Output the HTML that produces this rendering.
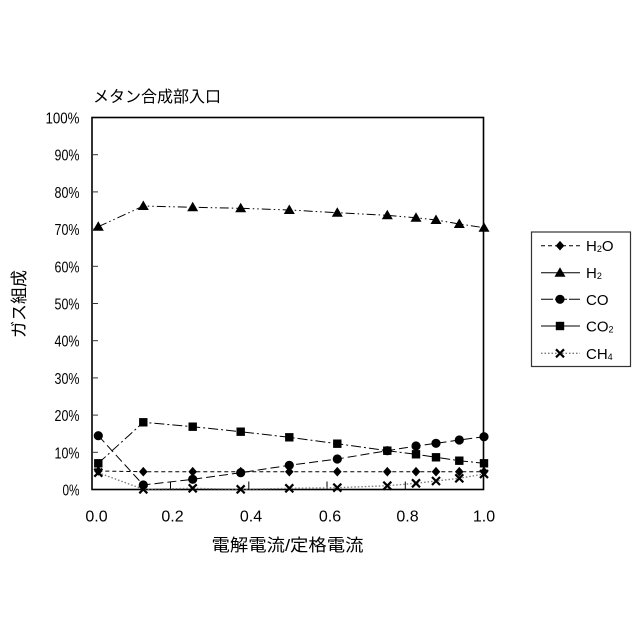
<!DOCTYPE html>
<html><head><meta charset="utf-8"><style>
html,body{margin:0;padding:0;background:#fff;}
svg{display:block;}
text{font-family:"Liberation Sans","Noto Sans CJK JP",sans-serif;fill:#000;}
.j{font-family:"Liberation Sans","Noto Sans CJK JP",sans-serif;}
</style></head><body>
<svg width="640" height="640" viewBox="0 0 640 640" xmlns="http://www.w3.org/2000/svg">
<rect width="640" height="640" fill="#fff"/>
<defs>
<symbol id="tri" overflow="visible"><polygon points="0,-5.5 5.5,4 -5.5,4" fill="#000"/></symbol>
<symbol id="sq" overflow="visible"><rect x="-4.2" y="-4.2" width="8.4" height="8.4" fill="#000"/></symbol>
<symbol id="ci" overflow="visible"><circle r="4.6" fill="#000"/></symbol>
<symbol id="di" overflow="visible"><polygon points="0,-4.8 4.3,0 0,4.8 -4.3,0" fill="#000"/></symbol>
<symbol id="xx" overflow="visible"><path d="M-4,-4 L4,4 M4,-4 L-4,4" stroke="#000" stroke-width="2.2" fill="none"/></symbol>
</defs>

<!-- title -->
<text x="93" y="102" font-size="16" class="j">メタン合成部入口</text>

<!-- plot frame -->
<rect x="92" y="117.5" width="391.5" height="372" fill="none" stroke="#000" stroke-width="1.6"/>

<!-- y ticks -->
<g stroke="#333" stroke-width="1">
<line x1="92" x2="98" y1="154.7" y2="154.7"/>
<line x1="92" x2="98" y1="191.9" y2="191.9"/>
<line x1="92" x2="98" y1="229.1" y2="229.1"/>
<line x1="92" x2="98" y1="266.3" y2="266.3"/>
<line x1="92" x2="98" y1="303.5" y2="303.5"/>
<line x1="92" x2="98" y1="340.7" y2="340.7"/>
<line x1="92" x2="98" y1="377.9" y2="377.9"/>
<line x1="92" x2="98" y1="415.1" y2="415.1"/>
<line x1="92" x2="98" y1="452.3" y2="452.3"/>
</g>
<!-- x ticks -->
<g stroke="#000" stroke-width="1">
<line x1="170.5" x2="170.5" y1="489.5" y2="481.5"/>
<line x1="248.8" x2="248.8" y1="489.5" y2="481.5"/>
<line x1="327" x2="327" y1="489.5" y2="481.5"/>
<line x1="405.3" x2="405.3" y1="489.5" y2="481.5"/>
</g>

<!-- y labels -->
<g font-size="16" text-anchor="end">
<text x="79.5" y="123.5" textLength="34" lengthAdjust="spacingAndGlyphs">100%</text>
<text x="79.5" y="160.7" textLength="25" lengthAdjust="spacingAndGlyphs">90%</text>
<text x="79.5" y="197.9" textLength="25" lengthAdjust="spacingAndGlyphs">80%</text>
<text x="79.5" y="235.1" textLength="25" lengthAdjust="spacingAndGlyphs">70%</text>
<text x="79.5" y="272.3" textLength="25" lengthAdjust="spacingAndGlyphs">60%</text>
<text x="79.5" y="309.5" textLength="25" lengthAdjust="spacingAndGlyphs">50%</text>
<text x="79.5" y="346.7" textLength="25" lengthAdjust="spacingAndGlyphs">40%</text>
<text x="79.5" y="383.9" textLength="25" lengthAdjust="spacingAndGlyphs">30%</text>
<text x="79.5" y="421.1" textLength="25" lengthAdjust="spacingAndGlyphs">20%</text>
<text x="79.5" y="458.3" textLength="25" lengthAdjust="spacingAndGlyphs">10%</text>
<text x="79.5" y="495.5" textLength="17" lengthAdjust="spacingAndGlyphs">0%</text>
</g>

<!-- x labels -->
<g font-size="16" text-anchor="middle">
<text x="96.5" y="521.7">0.0</text>
<text x="172.5" y="521.7">0.2</text>
<text x="251" y="521.7">0.4</text>
<text x="330" y="521.7">0.6</text>
<text x="407.5" y="521.7">0.8</text>
<text x="484" y="521.7">1.0</text>
</g>

<!-- axis titles -->
<text x="287.5" y="551" font-size="17" text-anchor="middle" class="j" textLength="152" lengthAdjust="spacingAndGlyphs">電解電流/定格電流</text>
<text transform="translate(25,304) rotate(-90)" font-size="17" text-anchor="middle" class="j">ガス組成</text>

<!-- series lines -->
<g fill="none" stroke-width="1">
<!-- H2O -->
<polyline stroke="#000" stroke-dasharray="4 3" points="98.3,471 143.3,471.7 192.7,471.7 240.7,471.7 289.3,471.7 337.3,471.7 387.3,471.7 416,471.7 436,471.7 459.3,471.7 484,471.7"/>
<!-- H2 -->
<polyline stroke="#000" stroke-dasharray="9 3 1.5 3 1.5 3" points="98.3,226.7 143.3,206 192.7,207.3 240.7,208.3 289.3,210 337.3,212.7 387.3,215.3 416,217.7 436,220 459.3,224 484,227.7"/>
<!-- CO -->
<polyline stroke="#000" stroke-dasharray="9 4" points="98.3,435.7 143.3,485 192.7,479.3 240.7,472.7 289.3,465.3 337.3,459 387.3,450.7 416,446 436,443.3 459.3,440 484,436.7"/>
<!-- CO2 -->
<polyline stroke="#000" stroke-dasharray="10 3 2 3" points="98.3,463.3 143.3,422.3 192.7,426.7 240.7,431.7 289.3,437.3 337.3,443.7 387.3,450.7 416,454.3 436,457.3 459.3,460.7 484,463.3"/>
<!-- CH4 -->
<polyline stroke="#777" stroke-dasharray="1.5 2" stroke-width="1.3" points="98.3,472.7 143.3,489.3 192.7,488.3 240.7,489.3 289.3,488.3 337.3,487.7 387.3,485.7 416,483.3 436,481 459.3,478.3 484,474"/>
</g>

<!-- markers -->
<g>
<use href="#di" x="98.3" y="471"/><use href="#di" x="143.3" y="471.7"/><use href="#di" x="192.7" y="471.7"/><use href="#di" x="240.7" y="471.7"/><use href="#di" x="289.3" y="471.7"/><use href="#di" x="337.3" y="471.7"/><use href="#di" x="387.3" y="471.7"/><use href="#di" x="416" y="471.7"/><use href="#di" x="436" y="471.7"/><use href="#di" x="459.3" y="471.7"/><use href="#di" x="484" y="471.7"/>

<use href="#tri" x="98.3" y="226.7"/><use href="#tri" x="143.3" y="206"/><use href="#tri" x="192.7" y="207.3"/><use href="#tri" x="240.7" y="208.3"/><use href="#tri" x="289.3" y="210"/><use href="#tri" x="337.3" y="212.7"/><use href="#tri" x="387.3" y="215.3"/><use href="#tri" x="416" y="217.7"/><use href="#tri" x="436" y="220"/><use href="#tri" x="459.3" y="224"/><use href="#tri" x="484" y="227.7"/>

<use href="#ci" x="98.3" y="435.7"/><use href="#ci" x="143.3" y="485"/><use href="#ci" x="192.7" y="479.3"/><use href="#ci" x="240.7" y="472.7"/><use href="#ci" x="289.3" y="465.3"/><use href="#ci" x="337.3" y="459"/><use href="#ci" x="387.3" y="450.7"/><use href="#ci" x="416" y="446"/><use href="#ci" x="436" y="443.3"/><use href="#ci" x="459.3" y="440"/><use href="#ci" x="484" y="436.7"/>

<use href="#sq" x="98.3" y="463.3"/><use href="#sq" x="143.3" y="422.3"/><use href="#sq" x="192.7" y="426.7"/><use href="#sq" x="240.7" y="431.7"/><use href="#sq" x="289.3" y="437.3"/><use href="#sq" x="337.3" y="443.7"/><use href="#sq" x="387.3" y="450.7"/><use href="#sq" x="416" y="454.3"/><use href="#sq" x="436" y="457.3"/><use href="#sq" x="459.3" y="460.7"/><use href="#sq" x="484" y="463.3"/>

<use href="#xx" x="98.3" y="472.7"/><use href="#xx" x="143.3" y="489.3"/><use href="#xx" x="192.7" y="488.3"/><use href="#xx" x="240.7" y="489.3"/><use href="#xx" x="289.3" y="488.3"/><use href="#xx" x="337.3" y="487.7"/><use href="#xx" x="387.3" y="485.7"/><use href="#xx" x="416" y="483.3"/><use href="#xx" x="436" y="481"/><use href="#xx" x="459.3" y="478.3"/><use href="#xx" x="484" y="474"/>
</g>

<!-- legend -->
<rect x="531.5" y="232" width="99" height="134.5" fill="#fff" stroke="#333" stroke-width="1.2"/>
<g fill="none" stroke-width="1">
<line x1="541" x2="580" y1="245.7" y2="245.7" stroke="#000" stroke-dasharray="4 3"/>
<line x1="541" x2="580" y1="272.7" y2="272.7" stroke="#000"/>
<line x1="541" x2="580" y1="299.3" y2="299.3" stroke="#000" stroke-dasharray="12 2"/>
<line x1="541" x2="580" y1="326" y2="326" stroke="#000"/>
<line x1="541" x2="580" y1="353.3" y2="353.3" stroke="#777" stroke-dasharray="1.5 2" stroke-width="1.3"/>
</g>
<use href="#di" x="560" y="245.7"/>
<use href="#tri" x="560" y="272.7"/>
<use href="#ci" x="560" y="299.3"/>
<use href="#sq" x="560" y="326"/>
<use href="#xx" x="560" y="353.3"/>
<g font-size="15">
<text x="586" y="251.2">H<tspan font-size="9" dy="1">2</tspan><tspan dy="-1">O</tspan></text>
<text x="586" y="278.2">H<tspan font-size="9" dy="1">2</tspan></text>
<text x="586" y="304.8">CO</text>
<text x="586" y="331.5">CO<tspan font-size="9" dy="1">2</tspan></text>
<text x="586" y="358.8">CH<tspan font-size="9" dy="1">4</tspan></text>
</g>
</svg>
</body></html>
